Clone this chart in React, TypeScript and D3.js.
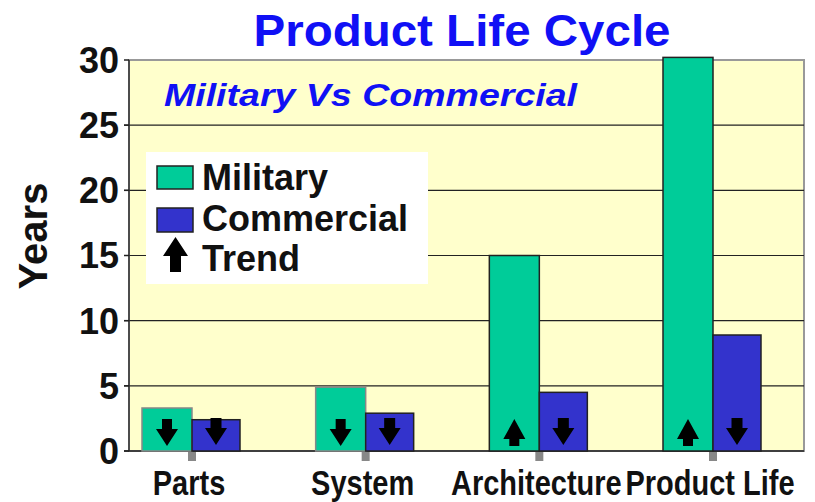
import React from "react";
import * as d3 from "d3";

const categories = ["Parts", "System", "Architecture", "Product Life"];
const military = [3.3, 4.9, 15, 30.2];
const commercial = [2.4, 2.9, 4.5, 8.9];
const trendMilitary = ["down", "down", "up", "up"];
const trendCommercial = ["down", "down", "down", "down"];
const yTicks = [0, 5, 10, 15, 20, 25, 30];
const legendItems = ["Military", "Commercial", "Trend"];

const W = 815;
const H = 502;
const plot = { left: 129, right: 804, top: 60, bottom: 451 };
const barW = 50;
const FONT = "Arial, 'Liberation Sans', Helvetica, sans-serif";
const MIL = "#00CC99";
const COM = "#3333CC";
const BLUE = "#1010F5";

function arrowPath(cx: number, top: number, h: number, headW: number, shaftW: number, headH: number, dir: string) {
  const p = d3.path();
  const bot = top + h;
  if (dir === "down") {
    p.moveTo(cx - shaftW / 2, top);
    p.lineTo(cx + shaftW / 2, top);
    p.lineTo(cx + shaftW / 2, bot - headH);
    p.lineTo(cx + headW / 2, bot - headH);
    p.lineTo(cx, bot);
    p.lineTo(cx - headW / 2, bot - headH);
    p.lineTo(cx - shaftW / 2, bot - headH);
    p.closePath();
  } else {
    p.moveTo(cx, top);
    p.lineTo(cx + headW / 2, top + headH);
    p.lineTo(cx + shaftW / 2, top + headH);
    p.lineTo(cx + shaftW / 2, bot);
    p.lineTo(cx - shaftW / 2, bot);
    p.lineTo(cx - shaftW / 2, top + headH);
    p.lineTo(cx - headW / 2, top + headH);
    p.closePath();
  }
  return p.toString();
}

export default function App() {
  const x = d3.scalePoint<string>().domain(categories).range([192, 713]);
  const y = d3.scaleLinear().domain([0, 30]).range([plot.bottom, plot.top]);

  return (
    <div style={{ position: "absolute", left: 0, top: 0 }}>
      <svg width={W} height={H} style={{ display: "block", background: "#fff" }}>
        <rect x={plot.left} y={plot.top} width={plot.right - plot.left} height={plot.bottom - plot.top}
          fill="#FFFFCC" stroke="#999" strokeWidth={2} />
        {yTicks.filter((t) => t > 0 && t < 30).map((t) => (
          <line key={t} x1={plot.left - 5} x2={plot.right} y1={y(t)} y2={y(t)} stroke="#222" strokeWidth={1.2} />
        ))}
        <line x1={plot.left} x2={plot.left} y1={plot.top} y2={plot.bottom} stroke="#333" strokeWidth={1.5} />
        <line x1={plot.left - 5} x2={plot.right} y1={plot.bottom} y2={plot.bottom} stroke="#222" strokeWidth={1.5} />
        {yTicks.map((t) => (
          <line key={"tk" + t} x1={plot.left - 5} x2={plot.left} y1={y(t)} y2={y(t)} stroke="#222" strokeWidth={1.5} />
        ))}
        {yTicks.map((t) => (
          <text key={"tl" + t} x={119} y={y(t)} dy="0.36em" textAnchor="end" fontFamily={FONT}
            fontWeight="bold" fontSize={36} fill="#111">{t}</text>
        ))}
        {categories.map((c, i) => {
          const cx = x(c) as number;
          return (
            <g key={c}>
              <rect x={cx - barW} y={y(military[i])} width={barW} height={y(0) - y(military[i])}
                fill={MIL} stroke={i < 2 ? "#888" : "#222"} strokeWidth={1.5} />
              <rect x={cx} y={y(commercial[i])} width={barW - 2} height={y(0) - y(commercial[i])}
                fill={COM} stroke="#222" strokeWidth={1.5} />
              <path d={arrowPath(cx - barW / 2, y(0) - 32, 27, 22, 10, trendMilitary[i] === "up" ? 20 : 17, trendMilitary[i])} fill="#000" />
              <path d={arrowPath(cx + (barW - 2) / 2, y(0) - 33, 27, 22, 11, 17, trendCommercial[i])} fill="#000" />
              <rect x={cx - 4} y={plot.bottom + 1} width={8} height={9} fill="#888" />
              <text transform={`translate(${cx - 3},495) scale(1,1.18)`} textAnchor="middle" fontFamily={FONT}
                fontWeight="bold" fontSize={29} fill="#111">{c}</text>
            </g>
          );
        })}
        <rect x={146} y={152} width={282} height={132} fill="#fff" />
        <rect x={157} y={166} width={36} height={23} fill={MIL} stroke="#222" strokeWidth={1.5} />
        <rect x={157} y={208} width={36} height={24} fill={COM} stroke="#222" strokeWidth={1.5} />
        <path d={arrowPath(175.5, 237, 35, 25, 11, 19, "up")} fill="#000" />
        {legendItems.map((t, i) => (
          <text key={t} x={202} y={[190, 231, 271][i]} fontFamily={FONT} fontWeight="bold" fontSize={36} fill="#111">{t}</text>
        ))}
        <text x={462} y={46} textAnchor="middle" fontFamily={FONT} fontWeight="bold" fontSize={45} fill={BLUE}
          textLength={417} lengthAdjust="spacingAndGlyphs">Product Life Cycle</text>
        <text x={164} y={106} fontFamily={FONT} fontWeight="bold" fontStyle="italic" fontSize={32} fill={BLUE}
          textLength={413} lengthAdjust="spacingAndGlyphs">Military Vs Commercial</text>
        <text transform="translate(47,236) rotate(-90)" textAnchor="middle" fontFamily={FONT} fontWeight="bold"
          fontSize={40} fill="#111">Years</text>
      </svg>
    </div>
  );
}
